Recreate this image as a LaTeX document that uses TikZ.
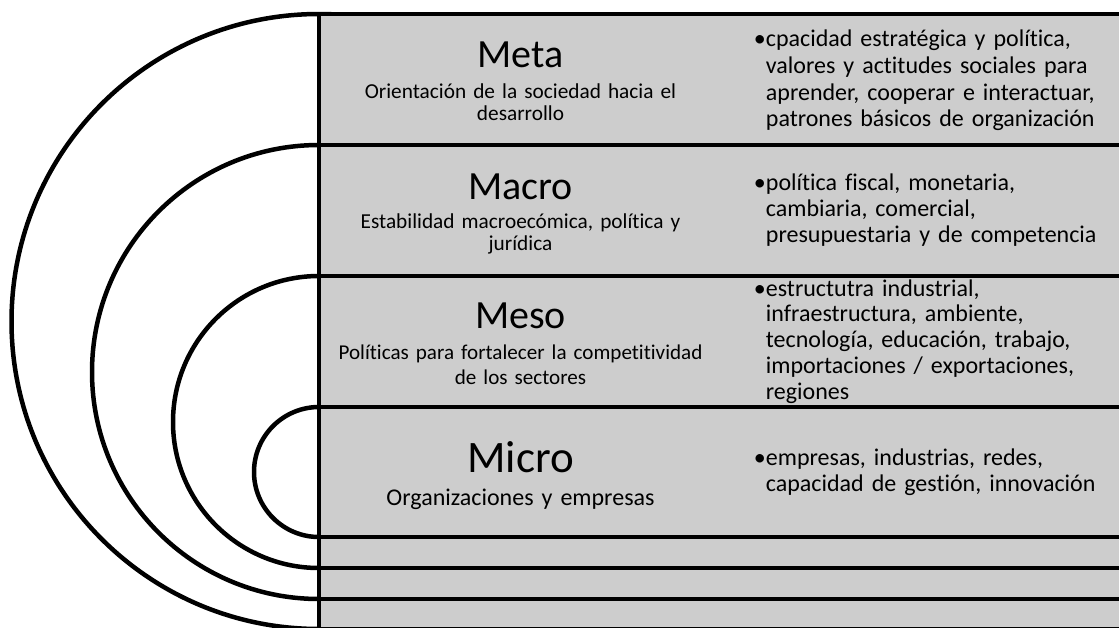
\documentclass[tikz,border=0pt]{standalone}
\usepackage{fontspec}
\setmainfont{Carlito}[RawFeature={-liga;-clig;-calt;-dlig;-hlig}]
\definecolor{panelgray}{HTML}{CDCDCD}
\newcommand\tIlig{t\kern0pt i}
\newcommand\fIlig{f\kern0pt i}
\begin{document}
\begin{tikzpicture}[x=1pt,y=-1pt,
  ring/.style={draw=black,line width=4.5pt},
  rule/.style={draw=black,line width=4.5pt},
  title/.style={anchor=base,inner sep=0pt,font=\fontsize{40}{44}\selectfont},
  desc/.style={anchor=base,inner sep=0pt,text width=390pt,align=center},
  items/.style={anchor=base west,inner sep=0pt,text width=345pt,align=left},
]
\useasboundingbox (0,0) rectangle (1119,627);
\clip (0,0) rectangle (1119,627);
% rings (their right halves are hidden under the panel)
\draw[ring] (319,321.5) circle[radius=307.5pt];
\draw[ring] (319,372) circle[radius=227pt];
\draw[ring] (319,422) circle[radius=146pt];
\draw[ring] (319,472) circle[radius=65pt];
% grey panel
\fill[panelgray] (319,14) rectangle (1130,640);
% band borders
\coordinate (t0) at (319,14);
\coordinate (t1) at (319,145);
\coordinate (t2) at (319,276);
\coordinate (t3) at (319,407);
\coordinate (b3) at (319,537);
\coordinate (b2) at (319,568);
\coordinate (b1) at (319,599);
\coordinate (b0) at (319,629);
\foreach \c in {t0,t1,t2,t3,b3,b2,b1,b0}{
  \draw[rule] (\c) -- ++(820,0);
}
\coordinate (vbot) at (319,640);
\draw[rule] (t0) -- (vbot);
% Meta
\node[title] (metaT) at (520.5,67.7) {Meta};
\node[desc,font=\fontsize{21.3}{21.7}\selectfont] (metaD) at (520.5,98.3)
  {Orientación de la sociedad hacia el\\desarrollo};
\node[items,font=\fontsize{24}{26.7}\selectfont] (metaI) at (765.7,46.7)
  {\llap{•}cpacidad estratégica y polí\tIlig ca,\\valores y ac\tIlig tudes sociales para\\aprender, cooperar e interactuar,\\patrones básicos de organización};
% Macro
\node[title] (macroT) at (520.5,199) {Macro};
\node[desc,font=\fontsize{21.3}{22.4}\selectfont] (macroD) at (520.5,228.3)
  {Estabilidad macroecómica, polí\tIlig ca y\\jurídica};
\node[items,font=\fontsize{24}{26}\selectfont] (macroI) at (765.7,190.7)
  {\llap{•}polí\tIlig ca \fIlig scal, monetaria,\\cambiaria, comercial,\\presupuestaria y de competencia};
% Meso
\node[title] (mesoT) at (520.5,328.3) {Meso};
\node[desc,font=\fontsize{21.1}{25}\selectfont] (mesoD) at (520.5,359)
  {Polí\tIlig cas para fortalecer la compe\tIlig\tIlig vidad\\de los sectores};
\node[items,font=\fontsize{24}{25.8}\selectfont] (mesoI) at (765.7,296)
  {\llap{•}estructutra industrial,\\infraestructura, ambiente,\\tecnología, educación, trabajo,\\importaciones / exportaciones,\\regiones};
% Micro
\node[title,font=\fontsize{45}{50}\selectfont] (microT) at (520.5,472.7) {Micro};
\node[desc,font=\fontsize{24}{26}\selectfont] (microD) at (520.5,505.7)
  {Organizaciones y empresas};
\node[items,font=\fontsize{24}{26}\selectfont] (microI) at (765.7,465.7)
  {\llap{•}empresas, industrias, redes,\\capacidad de ges\tIlig ón, innovación};
\end{tikzpicture}
\end{document}
